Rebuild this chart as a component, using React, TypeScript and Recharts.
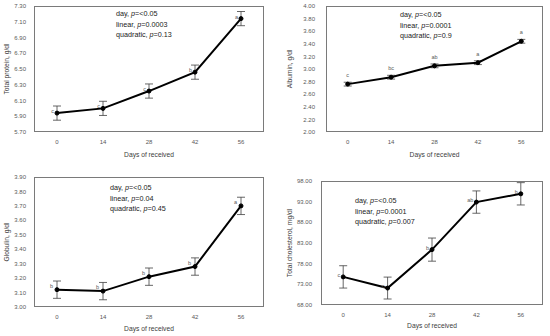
import React from "react";
import { LineChart, Line, XAxis, YAxis, ErrorBar, LabelList } from "recharts";

const days = ["0", "14", "28", "42", "56"];

const totalProtein = [5.94, 6.0, 6.22, 6.46, 7.14];
const totalProteinErr = [0.09, 0.09, 0.09, 0.09, 0.09];
const totalProteinSig = ["c", "c", "c", "b", "a"];
const totalProteinTicks = [5.7, 5.9, 6.1, 6.3, 6.5, 6.7, 6.9, 7.1, 7.3];

const albumin = [2.76, 2.87, 3.05, 3.1, 3.44];
const albuminErr = [0.03, 0.03, 0.03, 0.03, 0.03];
const albuminSig = ["c", "bc", "ab", "a", "a"];
const albuminTicks = [2.0, 2.2, 2.4, 2.6, 2.8, 3.0, 3.2, 3.4, 3.6, 3.8, 4.0];

const globulin = [3.12, 3.11, 3.21, 3.28, 3.7];
const globulinErr = [0.06, 0.06, 0.06, 0.06, 0.06];
const globulinSig = ["b", "b", "b", "b", "a"];
const globulinTicks = [3.0, 3.1, 3.2, 3.3, 3.4, 3.5, 3.6, 3.7, 3.8, 3.9];

const cholesterol = [74.8, 72.1, 81.4, 92.9, 94.9];
const cholesterolErr = [2.7, 2.65, 2.8, 2.7, 2.7];
const cholesterolSig = ["c", "c", "b", "ab", "b"];
const cholesterolTicks = [68, 73, 78, 83, 88, 93, 98];

const FONT = "'Liberation Sans', Arial, sans-serif";
const FRAME = "#7a7a7a";

type PanelProps = {
  left: number;
  top: number;
  width: number;
  height: number;
  mTop: number;
  mRight: number;
  yWidth: number;
  xHeight: number;
  values: number[];
  errors: number[];
  sig: string[];
  ticks: number[];
  yTitle: string;
  yTitleOffset: number;
  xTitleOffset: number;
  tickMargin: number;
  sigDx: number;
  sigDy: number;
  sigAnchor: "end" | "middle";
  stats: string[];
  statsLeft: number;
  statsTop: number;
};

function Panel(p: PanelProps) {
  const data = days.map((d, i) => ({
    day: d,
    value: p.values[i],
    err: p.errors[i],
    sig: p.sig[i],
  }));

  // points sit in the middle of each category band, like Excel
  const plotW = p.width - p.yWidth - p.mRight;
  const plotH = p.height - p.mTop - p.xHeight;
  const pad = plotW / (days.length * 2);

  const renderSig = (props: any) => {
    const vb = props.viewBox ?? props;
    const x = (vb.x ?? props.x) + (vb.width ?? 0) / 2;
    const y = (vb.y ?? props.y) + (vb.height ?? 0) / 2;
    return (
      <text
        x={x + p.sigDx}
        y={y + p.sigDy}
        textAnchor={p.sigAnchor}
        dominantBaseline="central"
        fontSize={5.5}
        fill="#595959"
        fontFamily={FONT}
      >
        {props.value}
      </text>
    );
  };

  return (
    <div
      style={{
        position: "absolute",
        left: p.left,
        top: p.top,
        width: p.width,
        height: p.height,
      }}
    >
      <LineChart
        width={p.width}
        height={p.height}
        data={data}
        margin={{ top: p.mTop, right: p.mRight, left: 0, bottom: 0 }}
      >
        <XAxis
          dataKey="day"
          height={p.xHeight}
          padding={{ left: pad, right: pad }}
          axisLine={false}
          tickLine={false}
          tick={{ fontSize: 6, fill: "#595959", fontFamily: FONT }}
          label={{
            value: "Days of received",
            position: "insideBottom",
            offset: p.xTitleOffset,
            style: { fontSize: 6.7, fill: "#404040", fontFamily: FONT },
          }}
        />
        <YAxis
          width={p.yWidth}
          domain={[p.ticks[0], p.ticks[p.ticks.length - 1]]}
          ticks={p.ticks}
          interval={0}
          axisLine={false}
          tickLine={false}
          tickMargin={p.tickMargin}
          tickFormatter={(v: number) => v.toFixed(2)}
          tick={{ fontSize: 6, fill: "#595959", fontFamily: FONT }}
          label={{
            value: p.yTitle,
            angle: -90,
            position: "insideLeft",
            offset: p.yTitleOffset,
            style: {
              textAnchor: "middle",
              fontSize: 6.7,
              fill: "#404040",
              fontFamily: FONT,
            },
          }}
        />
        <Line
          type="linear"
          dataKey="value"
          stroke="#000"
          strokeWidth={2}
          dot={{ r: 2, fill: "#000", stroke: "#000", strokeWidth: 1 }}
          isAnimationActive={false}
        >
          <ErrorBar
            dataKey="err"
            width={4}
            stroke="#404040"
            strokeWidth={0.8}
            direction="y"
          />
          <LabelList dataKey="sig" content={renderSig} />
        </Line>
      </LineChart>
      {/* plot-area frame */}
      <svg
        width={p.width}
        height={p.height}
        style={{ position: "absolute", left: 0, top: 0, pointerEvents: "none" }}
      >
        <rect
          x={p.yWidth + 0.5}
          y={p.mTop + 0.5}
          width={plotW - 1}
          height={plotH - 1}
          fill="none"
          stroke={FRAME}
          strokeWidth={1}
        />
      </svg>
      <div
        style={{
          position: "absolute",
          left: p.statsLeft - p.left,
          top: p.statsTop - p.top,
          fontFamily: FONT,
          fontSize: 7.2,
          lineHeight: "10.6px",
          color: "#1a1a1a",
          whiteSpace: "nowrap",
        }}
      >
        {p.stats.map((s) => (
          <div key={s}>
            {s.split("p=")[0]}
            <i>p</i>={s.split("p=")[1]}
          </div>
        ))}
      </div>
    </div>
  );
}

export default function App() {
  return (
    <div
      style={{
        position: "absolute",
        left: 0,
        top: 0,
        width: 550,
        height: 336,
        background: "#fff",
        overflow: "hidden",
      }}
    >
      <Panel
        left={0}
        top={0}
        width={275}
        height={166}
        mTop={6}
        mRight={11}
        yWidth={34}
        xHeight={34}
        values={totalProtein}
        errors={totalProteinErr}
        sig={totalProteinSig}
        ticks={totalProteinTicks}
        yTitle="Total protein, g/dl"
        yTitleOffset={7}
        xTitleOffset={9}
        tickMargin={2}
        sigDx={-3}
        sigDy={-2}
        sigAnchor="end"
        stats={["day, p=<0.05", "linear, p=0.0003", "quadratic, p=0.13"]}
        statsLeft={116}
        statsTop={9}
      />
      <Panel
        left={275}
        top={0}
        width={275}
        height={166}
        mTop={6}
        mRight={7}
        yWidth={51}
        xHeight={34}
        values={albumin}
        errors={albuminErr}
        sig={albuminSig}
        ticks={albuminTicks}
        yTitle="Albumin, g/dl"
        yTitleOffset={15}
        xTitleOffset={9}
        tickMargin={5}
        sigDx={0}
        sigDy={-9}
        sigAnchor="middle"
        stats={["day, p=<0.05", "linear, p=0.0001", "quadratic, p=0.9"]}
        statsLeft={400}
        statsTop={10}
      />
      <Panel
        left={0}
        top={165}
        width={275}
        height={171}
        mTop={12}
        mRight={11}
        yWidth={34}
        xHeight={29}
        values={globulin}
        errors={globulinErr}
        sig={globulinSig}
        ticks={globulinTicks}
        yTitle="Globulin, g/dl"
        yTitleOffset={7}
        xTitleOffset={5}
        tickMargin={2}
        sigDx={-4}
        sigDy={-4}
        sigAnchor="end"
        stats={["day, p=<0.05", "linear, p=0.04", "quadratic, p=0.45"]}
        statsLeft={110}
        statsTop={183}
      />
      <Panel
        left={275}
        top={165}
        width={275}
        height={171}
        mTop={16}
        mRight={7}
        yWidth={46}
        xHeight={31}
        values={cholesterol}
        errors={cholesterolErr}
        sig={cholesterolSig}
        ticks={cholesterolTicks}
        yTitle="Total cholesterol, mg/dl"
        yTitleOffset={15}
        xTitleOffset={8}
        tickMargin={3}
        sigDx={-3}
        sigDy={-2}
        sigAnchor="end"
        stats={["day, p=<0.05", "linear, p=0.0001", "quadratic, p=0.007"]}
        statsLeft={355}
        statsTop={196}
      />
    </div>
  );
}
